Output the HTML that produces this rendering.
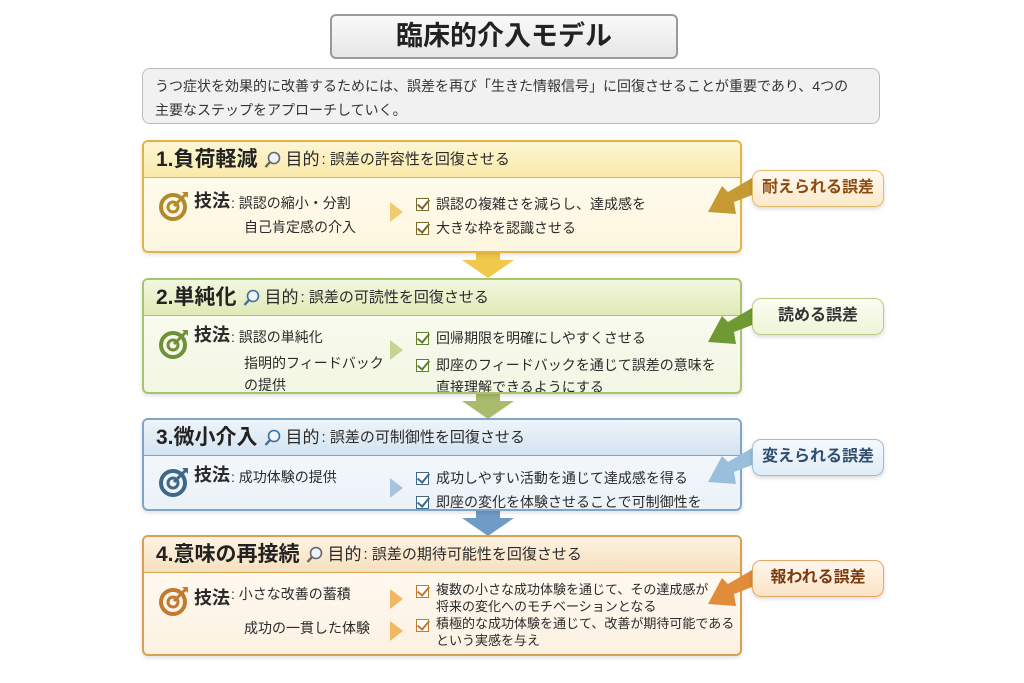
<!DOCTYPE html>
<html><head><meta charset="utf-8">
<style>
*{margin:0;padding:0;box-sizing:border-box}
body{width:1024px;height:683px;background:#fff;position:relative;overflow:hidden;font-family:"Liberation Sans","Noto Sans CJK JP",sans-serif;color:#2a2a2a}
.a{position:absolute}
.title{left:330px;top:14px;width:348px;height:45px;border:2px solid #9a9a9a;border-radius:6px;background:linear-gradient(#fafafa,#e6e6e6);text-align:center;font-size:27px;font-weight:bold;line-height:41px;color:#222}
.desc{left:142px;top:68px;width:738px;height:56px;border:1.5px solid #bbb;border-radius:8px;background:#f1f1f1;font-size:14px;line-height:24px;padding:5px 12px;color:#333}
.box{left:142px;width:600px;border:2px solid;border-radius:6px;overflow:hidden;box-shadow:0 2px 4px rgba(0,0,0,.12)}
.hd{height:36px;border-bottom:1.5px solid;padding-left:12px;font-size:15px;line-height:36px;white-space:nowrap;display:flex;align-items:center}
.hd b{font-size:21px;font-weight:bold;color:#222}
.hd .m{font-size:17px;margin-right:2px}
.mg{width:18px;height:18px;margin:0 4px 0 6px}
.body{position:relative}
.t{position:absolute;font-size:14px;white-space:nowrap;line-height:22px}
.tech{font-size:18px;font-weight:bold}
.cb{position:absolute;width:13px;height:13px;border:1.5px solid #555;background:#fff}
.cb:after{content:"";position:absolute;left:3px;top:-2px;width:5px;height:10px;border:solid;border-width:0 2px 2px 0;transform:rotate(40deg);border-color:inherit}
.tri{position:absolute;width:0;height:0;border-top:10px solid transparent;border-bottom:10px solid transparent;border-left:13px solid}
.lab{left:752px;width:132px;height:37px;border:1.5px solid;border-radius:9px;text-align:center;line-height:34px;font-size:16px;font-weight:bold;box-shadow:0 2px 4px rgba(0,0,0,.15)}
.dn{position:absolute;left:462px;width:52px;height:26px}
</style></head><body>
<div class="a title">臨床的介入モデル</div>
<div class="a desc">うつ症状を効果的に改善するためには、誤差を再び「生きた情報信号」に回復させることが重要であり、4つの<br>主要なステップをアプローチしていく。</div>

<svg class="dn" style="top:252px" viewBox="0 0 52 26"><polygon points="14,0 38,0 38,8 52,8 26,26 0,8 14,8" fill="#f0c94a"/></svg>
<svg class="dn" style="top:393px" viewBox="0 0 52 26"><polygon points="14,0 38,0 38,8 52,8 26,26 0,8 14,8" fill="#a9bb6c"/></svg>
<svg class="dn" style="top:510px" viewBox="0 0 52 26"><polygon points="14,0 38,0 38,8 52,8 26,26 0,8 14,8" fill="#6f9cc6"/></svg>

<!-- Box 1 -->
<div class="a box" style="top:140px;height:113px;border-color:#e2b446;background:linear-gradient(#fffdf3,#fdf6df)">
 <div class="hd" style="border-color:#e2b446;background:linear-gradient(#fdf6d6,#f9e9a8)"><b>1.負荷軽減</b><svg class="mg" viewBox="0 0 18 18"><circle cx="10" cy="7" r="5.5" fill="#eef4fb" stroke="#666" stroke-width="1.6"/><path d="M6 11 L1.5 16" stroke="#666" stroke-width="2.4"/></svg><span class="m">目的</span>: 誤差の許容性を回復させる</div>
 <div class="body">
  <svg class="a" style="left:14px;top:12px" width="32" height="32" viewBox="0 0 32 32"><circle cx="15" cy="17" r="12" fill="none" stroke="#b28a2c" stroke-width="4"/><circle cx="15" cy="17" r="5" fill="none" stroke="#b28a2c" stroke-width="3"/><path d="M16 16 L28 4" stroke="#b28a2c" stroke-width="3"/><path d="M24 2 l6 0 l0 6z" fill="#b28a2c"/></svg>
  <div class="t tech" style="left:50px;top:12px">技法</div><div class="t" style="left:87px;top:14px">: 誤認の縮小・分割</div>
  <div class="t" style="left:100px;top:38px">自己肯定感の介入</div>
  <div class="tri" style="left:246px;top:24px;border-left-color:#f0cc6e"></div>
  <div class="cb" style="left:272px;top:20px;border-color:#7a6a2a"></div><div class="t" style="left:292px;top:15px">誤認の複雑さを減らし、達成感を</div>
  <div class="cb" style="left:272px;top:44px;border-color:#7a6a2a"></div><div class="t" style="left:292px;top:39px">大きな枠を認識させる</div>
 </div>
</div>
<!-- Box 2 -->
<div class="a box" style="top:278px;height:116px;border-color:#a9c46f;background:linear-gradient(#fbfdf3,#f2f6e2)">
 <div class="hd" style="border-color:#a9c46f;background:linear-gradient(#f3f7df,#dfe9b6)"><b>2.単純化</b><svg class="mg" viewBox="0 0 18 18"><circle cx="10" cy="7" r="5.5" fill="#eef4fb" stroke="#3a6fa0" stroke-width="1.6"/><path d="M6 11 L1.5 16" stroke="#3a6fa0" stroke-width="2.4"/></svg><span class="m">目的</span>: 誤差の可読性を回復させる</div>
 <div class="body">
  <svg class="a" style="left:14px;top:12px" width="32" height="32" viewBox="0 0 32 32"><circle cx="15" cy="17" r="12" fill="none" stroke="#6f8f3a" stroke-width="4"/><circle cx="15" cy="17" r="5" fill="none" stroke="#6f8f3a" stroke-width="3"/><path d="M16 16 L28 4" stroke="#6f8f3a" stroke-width="3"/><path d="M24 2 l6 0 l0 6z" fill="#6f8f3a"/></svg>
  <div class="t tech" style="left:50px;top:8px">技法</div><div class="t" style="left:87px;top:10px">: 誤認の単純化</div>
  <div class="t" style="left:100px;top:36px">指明的フィードバック</div>
  <div class="t" style="left:100px;top:58px">の提供</div>
  <div class="tri" style="left:246px;top:24px;border-left-color:#c4d492"></div>
  <div class="cb" style="left:272px;top:16px;border-color:#5f7f2a"></div><div class="t" style="left:292px;top:11px">回帰期限を明確にしやすくさせる</div>
  <div class="cb" style="left:272px;top:43px;border-color:#5f7f2a"></div><div class="t" style="left:292px;top:38px">即座のフィードバックを通じて誤差の意味を</div>
  <div class="t" style="left:292px;top:60px">直接理解できるようにする</div>
 </div>
</div>
<!-- Box 3 -->
<div class="a box" style="top:418px;height:93px;border-color:#7fa6c8;background:linear-gradient(#f7fafd,#ebf2f8)">
 <div class="hd" style="border-color:#7fa6c8;background:linear-gradient(#eef4fa,#d3e3f0)"><b>3.微小介入</b><svg class="mg" viewBox="0 0 18 18"><circle cx="10" cy="7" r="5.5" fill="#eef4fb" stroke="#3a6fa0" stroke-width="1.6"/><path d="M6 11 L1.5 16" stroke="#3a6fa0" stroke-width="2.4"/></svg><span class="m">目的</span>: 誤差の可制御性を回復させる</div>
 <div class="body">
  <svg class="a" style="left:14px;top:10px" width="32" height="32" viewBox="0 0 32 32"><circle cx="15" cy="17" r="12" fill="none" stroke="#3f6788" stroke-width="4"/><circle cx="15" cy="17" r="5" fill="none" stroke="#3f6788" stroke-width="3"/><path d="M16 16 L28 4" stroke="#3f6788" stroke-width="3"/><path d="M24 2 l6 0 l0 6z" fill="#3f6788"/></svg>
  <div class="t tech" style="left:50px;top:8px">技法</div><div class="t" style="left:87px;top:10px">: 成功体験の提供</div>
  <div class="tri" style="left:246px;top:22px;border-left-color:#a8c4dc"></div>
  <div class="cb" style="left:272px;top:16px;border-color:#3f6788"></div><div class="t" style="left:292px;top:11px">成功しやすい活動を通じて達成感を得る</div>
  <div class="cb" style="left:272px;top:40px;border-color:#3f6788"></div><div class="t" style="left:292px;top:35px">即座の変化を体験させることで可制御性を</div>
 </div>
</div>
<!-- Box 4 -->
<div class="a box" style="top:535px;height:121px;border-color:#d9a04e;background:linear-gradient(#fffcf6,#fcf1e2)">
 <div class="hd" style="border-color:#d9a04e;background:linear-gradient(#fdf3e3,#f6e0bd)"><b>4.意味の再接続</b><svg class="mg" viewBox="0 0 18 18"><circle cx="10" cy="7" r="5.5" fill="#eef4fb" stroke="#666" stroke-width="1.6"/><path d="M6 11 L1.5 16" stroke="#666" stroke-width="2.4"/></svg><span class="m">目的</span>: 誤差の期待可能性を回復させる</div>
 <div class="body">
  <svg class="a" style="left:14px;top:12px" width="32" height="32" viewBox="0 0 32 32"><circle cx="15" cy="17" r="12" fill="none" stroke="#c27a2e" stroke-width="4"/><circle cx="15" cy="17" r="5" fill="none" stroke="#c27a2e" stroke-width="3"/><path d="M16 16 L28 4" stroke="#c27a2e" stroke-width="3"/><path d="M24 2 l6 0 l0 6z" fill="#c27a2e"/></svg>
  <div class="t tech" style="left:50px;top:14px">技法</div><div class="t" style="left:87px;top:10px">: 小さな改善の蓄積</div>
  <div class="t" style="left:100px;top:44px">成功の一貫した体験</div>
  <div class="tri" style="left:246px;top:16px;border-left-color:#f0b862"></div>
  <div class="tri" style="left:246px;top:48px;border-left-color:#f0b862"></div>
  <div class="cb" style="left:272px;top:12px;border-color:#c27a2e"></div><div class="t" style="left:292px;top:6px;font-size:13px">複数の小さな成功体験を通じて、その達成感が</div>
  <div class="t" style="left:292px;top:23px;font-size:13px">将来の変化へのモチベーションとなる</div>
  <div class="cb" style="left:272px;top:46px;border-color:#c27a2e"></div><div class="t" style="left:292px;top:40px;font-size:13px">積極的な成功体験を通じて、改善が期待可能である</div>
  <div class="t" style="left:292px;top:57px;font-size:13px">という実感を与え</div>
 </div>
</div>

<!-- side arrows -->
<svg class="a" style="left:704px;top:176px" width="56" height="42" viewBox="0 0 56 42"><polygon points="48,2 56,16 30,26 32,38 4,36 18,10 24,16" fill="#c59a32"/></svg>
<svg class="a" style="left:704px;top:306px" width="56" height="42" viewBox="0 0 56 42"><polygon points="48,2 56,16 30,26 32,38 4,36 18,10 24,16" fill="#6f9a33"/></svg>
<svg class="a" style="left:704px;top:446px" width="56" height="42" viewBox="0 0 56 42"><polygon points="48,2 56,16 30,26 32,38 4,36 18,10 24,16" fill="#9abfdc"/></svg>
<svg class="a" style="left:704px;top:568px" width="56" height="42" viewBox="0 0 56 42"><polygon points="48,2 56,16 30,26 32,38 4,36 18,10 24,16" fill="#e08c3a"/></svg>

<div class="a lab" style="top:170px;border-color:#e3bb6a;background:linear-gradient(#fffaf0,#fbe9c9);color:#8a4a12">耐えられる誤差</div>
<div class="a lab" style="top:298px;border-color:#b9cc86;background:linear-gradient(#fbfdf1,#eef4d8);color:#333">読める誤差</div>
<div class="a lab" style="top:439px;border-color:#9dbcd6;background:linear-gradient(#f5f9fd,#e0ecf6);color:#2e4e6e">変えられる誤差</div>
<div class="a lab" style="top:560px;border-color:#e2a868;background:linear-gradient(#fff6ec,#fbe3c6);color:#7a3a10">報われる誤差</div>
</body></html>
